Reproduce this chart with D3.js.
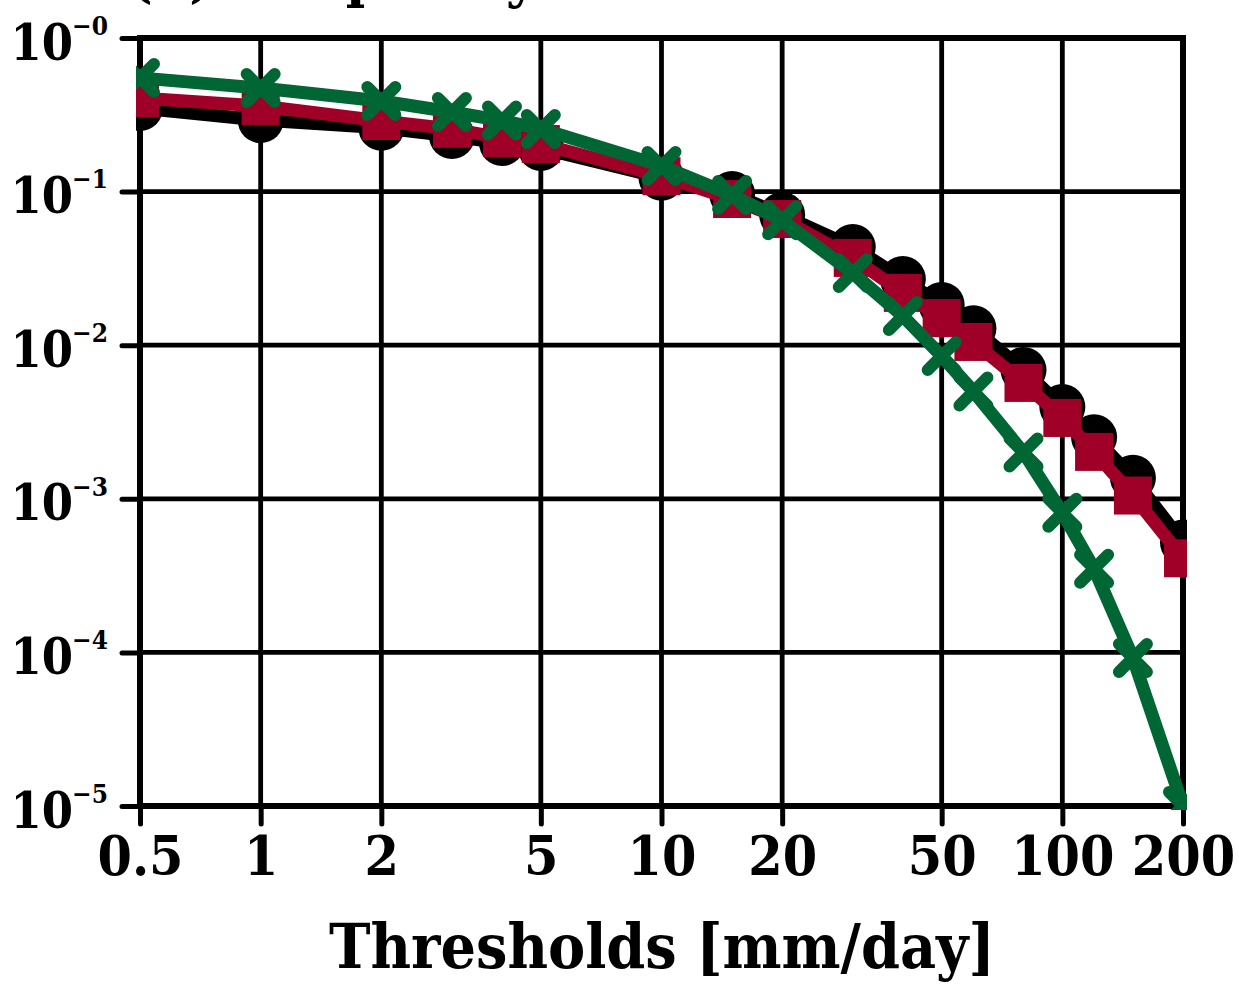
<!DOCTYPE html>
<html><head><meta charset="utf-8">
<script src="https://cdn.jsdelivr.net/npm/d3@7"></script>
<style>
body{margin:0;background:#fff}
text{font-family:"DejaVu Serif",serif;font-weight:bold;font-stretch:condensed}
</style></head>
<body><svg id="c" width="1239" height="984"></svg>
<script>
const thresholds=[0.5,1,2,3,4,5,10,15,20,30,40,50,60,80,100,120,150,200];
const obs   =[0.35,0.292,0.26,0.23,0.207,0.192,0.123,0.0963,0.0705,0.0436,0.027,0.0183,0.0129,0.0069,0.00396,0.00252,0.00137,0.00052];
const modelR=[0.407,0.361,0.288,0.256,0.223,0.204,0.126,0.0895,0.0663,0.037,0.0219,0.015,0.0105,0.00568,0.00336,0.00202,0.00105,0.00041];
const modelG=[0.55,0.472,0.389,0.33,0.29,0.256,0.147,0.095,0.065,0.0295,0.0155,0.0085,0.005,0.002,0.00081,0.00035,0.000092,0.00001];
const xTicks=[0.5,1,2,5,10,20,50,100,200];
const xTickLabels=["0.5","1","2","5","10","20","50","100","200"];
const yTicks=[1,1e-1,1e-2,1e-3,1e-4,1e-5];
const yTickExp=["−0","−1","−2","−3","−4","−5"];
const xTitle="Thresholds [mm/day]";
const title="(b) Frequency";

const svg=d3.select("#c");
const L=140,R=1183,T=38,B=806;
const x=d3.scaleLog().domain([0.5,200]).range([L,R]);
const y=d3.scaleLog().domain([1e-5,1]).range([B,T]);

// title (mostly cut off by the top edge, as in the reference)
svg.append("text").attr("x",128).attr("y",-4).attr("font-size",58).text(title);

// grid
const grid=svg.append("g");
grid.selectAll("line.v").data(xTicks).join("line")
  .attr("x1",d=>x(d)).attr("x2",d=>x(d)).attr("y1",T).attr("y2",B)
  .attr("stroke","#000").attr("stroke-width",4.8);
grid.selectAll("line.h").data(yTicks).join("line")
  .attr("y1",d=>y(d)).attr("y2",d=>y(d)).attr("x1",L).attr("x2",R)
  .attr("stroke","#000").attr("stroke-width",4.8);

// axes
const xa=svg.append("g").attr("transform",`translate(0,${B})`)
  .call(d3.axisBottom(x).tickValues(xTicks).tickFormat((d,i)=>xTickLabels[i]).tickSize(18).tickPadding(12));
xa.select(".domain").remove();
xa.selectAll(".tick line").attr("stroke","#000").attr("stroke-width",5).attr("stroke-linecap","round");
xa.selectAll(".tick text").attr("font-size",55).attr("fill","#000")
  .attr("font-family",'"DejaVu Serif",serif').attr("font-weight","bold");

const ya=svg.append("g").attr("transform",`translate(${L},0)`)
  .call(d3.axisLeft(y).tickValues(yTicks).tickFormat(()=> "10").tickSize(18).tickPadding(0));
ya.select(".domain").remove();
ya.selectAll(".tick line").attr("stroke","#000").attr("stroke-width",5).attr("stroke-linecap","round");
ya.selectAll(".tick text").attr("font-size",50).attr("fill","#000").attr("x",-32).attr("dy","0.42em")
  .attr("font-family",'"DejaVu Serif",serif').attr("font-weight","bold")
  .each(function(d,i){
    d3.select(this).append("tspan").attr("font-size",26).attr("dy","-0.95em").attr("dx","-1").text(yTickExp[i]);
  });

// border
svg.append("rect").attr("x",L).attr("y",T).attr("width",R-L).attr("height",B-T)
  .attr("fill","none").attr("stroke","#000").attr("stroke-width",6);

// clip
svg.append("defs").append("clipPath").attr("id","pc").append("rect")
  .attr("x",L-4).attr("y",T-4).attr("width",R-L+8).attr("height",B-T+8);
const plot=svg.append("g").attr("clip-path","url(#pc)");

const line=d3.line().x(d=>x(d[0])).y(d=>y(d[1]));
const series=[
  {vals:obs,color:"#000000",mark:"circle"},
  {vals:modelR,color:"#a00028",mark:"square"},
  {vals:modelG,color:"#006633",mark:"cross"}
];
series.forEach(s=>{
  const pts=thresholds.map((t,i)=>[t,s.vals[i]]);
  const g=plot.append("g");
  g.append("path").datum(pts).attr("d",line).attr("fill","none")
    .attr("stroke",s.color).attr("stroke-width",13).attr("stroke-linejoin","round");
  if(s.mark==="circle"){
    g.selectAll("circle").data(pts).join("circle")
      .attr("cx",d=>x(d[0])).attr("cy",d=>y(d[1])).attr("r",23).attr("fill",s.color);
  } else if(s.mark==="square"){
    g.selectAll("rect").data(pts).join("rect")
      .attr("x",d=>x(d[0])-19).attr("y",d=>y(d[1])-19).attr("width",38).attr("height",38).attr("fill",s.color);
  } else {
    const a=14;
    g.selectAll("path.x").data(pts).join("path").attr("class","x")
      .attr("d",d=>{const cx=x(d[0]),cy=y(d[1]);
        return `M${cx-a},${cy-a}L${cx+a},${cy+a}M${cx-a},${cy+a}L${cx+a},${cy-a}`;})
      .attr("stroke",s.color).attr("stroke-width",12).attr("stroke-linecap","round").attr("fill","none");
  }
});

// x-axis title
svg.append("text").attr("x",662).attr("y",968).attr("text-anchor","middle")
  .attr("font-size",62).text(xTitle);
</script></body></html>
